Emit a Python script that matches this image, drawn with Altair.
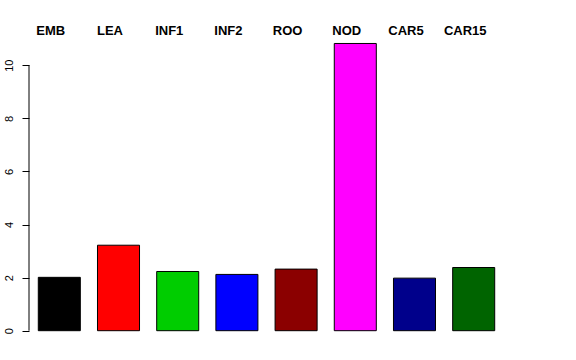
import altair as alt
import pandas as pd

tissues = ["EMB", "LEA", "INF1", "INF2", "ROO", "NOD", "CAR5", "CAR15"]
values = [2.01, 3.22, 2.23, 2.12, 2.32, 10.82, 1.98, 2.38]
colors = ["#000000", "#FF0000", "#00CD00", "#0000FF", "#8B0000", "#FF00FF", "#00008B", "#006400"]
y_ticks = [0, 2, 4, 6, 8, 10]

df = pd.DataFrame({"tissue": tissues, "value": values, "color": colors})

x = alt.X("tissue:N", sort=tissues,
          scale=alt.Scale(paddingInner=0.29, paddingOuter=0.157),
          axis=None)
yscale = alt.Scale(domain=[-0.426, 11.29], nice=False, zero=False)

bars = alt.Chart(df).mark_bar(stroke="black", strokeWidth=1).encode(
    x=x,
    y=alt.Y("value:Q", scale=yscale,
            axis=alt.Axis(values=y_ticks, orient="left", domain=False, grid=False,
                          tickSize=7, tickColor="black", tickWidth=1,
                          labelAngle=270, labelAlign="center", labelBaseline="bottom",
                          labelPadding=8, labelFont="Liberation Sans", labelFontSize=11,
                          labelColor="black", title=None)),
    y2=alt.datum(0),
    color=alt.Color("color:N", scale=None),
)

axis_line = alt.Chart(pd.DataFrame({"a": [0], "b": [10]})).mark_rule(color="black", strokeWidth=1).encode(
    x=alt.value(0),
    y=alt.Y("a:Q", scale=yscale),
    y2="b:Q",
)

labels = alt.Chart(df).mark_text(
    font="Liberation Sans", fontWeight="bold", fontSize=13, color="black",
    align="center", baseline="alphabetic", dx=-8.5, clip=False,
).encode(
    x=x,
    y=alt.value(3.5),
    text="tissue:N",
)

chart = alt.layer(bars, axis_line, labels).properties(
    width=475, height=311,
    autosize=alt.AutoSizeParams(type="none"),
    padding={"left": 29, "top": 31, "right": 72, "bottom": 18},
    background="white",
).configure_view(stroke=None, strokeWidth=0)

chart.save("out.html", embed_options={"renderer": "svg", "actions": False})
